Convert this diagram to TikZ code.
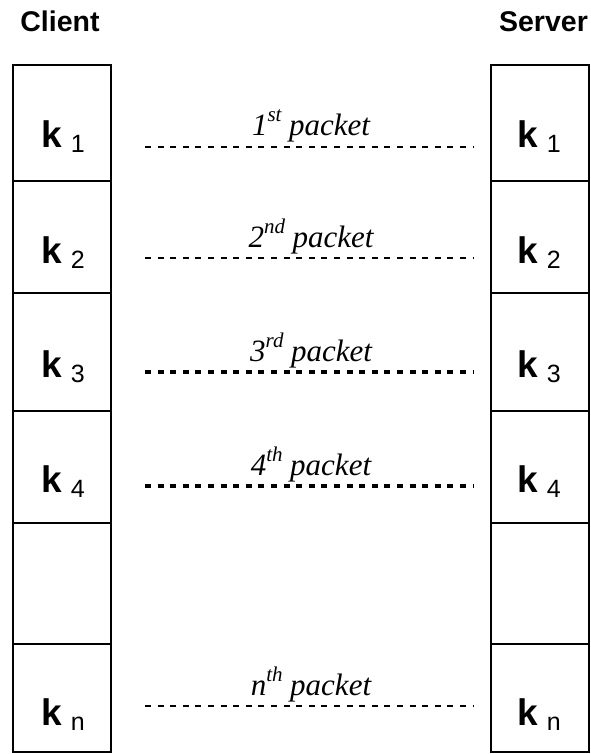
\documentclass[tikz,border=0pt]{standalone}
\usepackage{fontspec}
\setmainfont{Liberation Serif}
\setsansfont{Liberation Sans}
\begin{document}
\begin{tikzpicture}[x=1pt,y=-1pt,
  cell/.style={draw=black,line width=2pt,minimum width=98pt,inner sep=0pt,outer sep=0pt},
  head/.style={font=\sffamily\bfseries\fontsize{28.5}{30}\selectfont,anchor=base,inner sep=0pt},
  key/.style={font=\sffamily,anchor=base,inner sep=0pt},
  pkt/.style={dash pattern=on 6pt off 6.6pt},
  pktlabel/.style={font=\itshape\fontsize{31}{33}\selectfont,anchor=base,inner sep=0pt}]
\useasboundingbox[fill=white] (0,0) rectangle (590,754);
\newcommand{\kname}[1]{{\bfseries\fontsize{37}{38}\selectfont k}\hspace{9pt}\raisebox{-5pt}{\fontsize{25}{26}\selectfont #1}}
\newcommand{\ordinal}[2]{#1\raisebox{14pt}{\fontsize{21}{22}\selectfont #2}\hspace{7.5pt}packet}

% column headings
\node[head] (client) at (60,32) {Client};
\node[head] (server) at (543.5,32) {Server};

% key cells: name / top / bottom
\foreach \n/\t/\b in {1/65/181,2/181/293,3/293/411,4/411/523,5/523/644,6/644/752}{
  \node[cell,minimum height={\b-\t}] (c\n) at (62,{(\t+\b)/2}) {};
  \node[cell,minimum height={\b-\t}] (s\n) at (539.5,{(\t+\b)/2}) {};
}

% key labels
\foreach \n/\s/\y in {1/1/148,2/2/263,3/3/377,4/4/492,6/n/725}{
  \node[key] (kc\n) at (63,\y) {\kname{\s}};
  \node[key] (ks\n) at (539,\y) {\kname{\s}};
}

% packets exchanged between client and server
\foreach \n/\y/\w/\o/\e in {1/147/2.4/1/st,2/258/2.6/2/nd,3/372/3.2/3/rd,4/486/3.2/4/th,6/706/2.6/n/th}{
  \coordinate (pa\n) at (145,\y);
  \coordinate (pb\n) at (474,\y);
  \draw[pkt,line width=\w pt] (pa\n) -- (pb\n);
  \node[pktlabel] (pl\n) at (311,{\y-11}) {\ordinal{\o}{\e}};
}
\end{tikzpicture}
\end{document}
